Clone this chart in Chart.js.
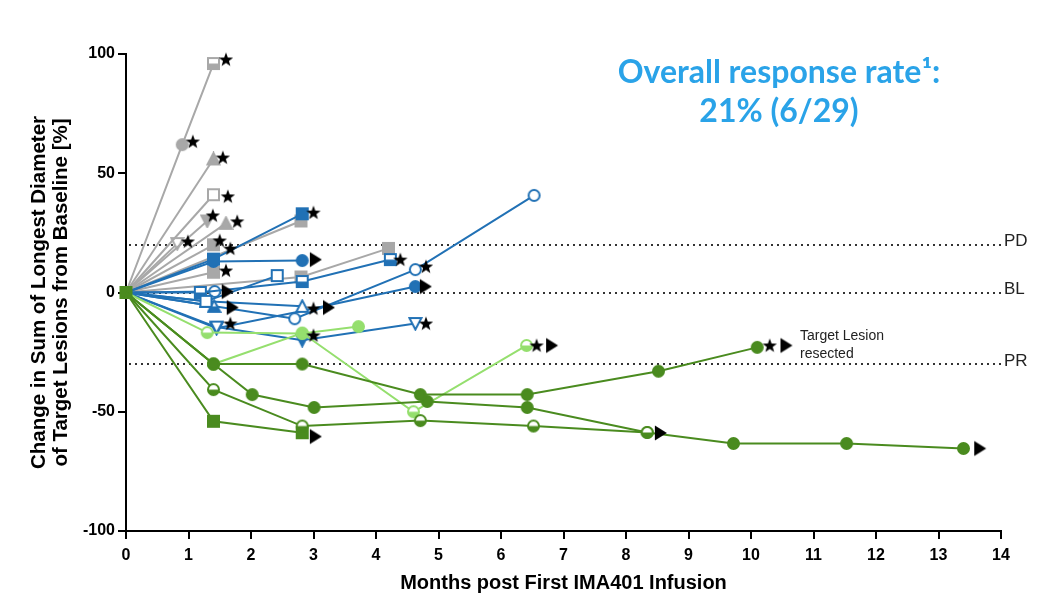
<!DOCTYPE html>
<html>
<head>
<meta charset="utf-8">
<script src="https://cdn.jsdelivr.net/npm/chart.js@4.4.1/dist/chart.umd.min.js"></script>
<style>
  body { margin: 0; background: #fff; }
</style>
</head>
<body>
<canvas id="chart" width="1045" height="610"></canvas>
<script>
// values: [months, % change from baseline]
const xTicks = [0, 14];
const yTicks = [-100, 100];
const refLevels = [20, 0, -30];
const refNames = ['PD', 'BL', 'PR'];

const graySeries = [
  [[0, 0], [0.9, 62], [1.4, 96]],
  [[0, 0], [1.4, 56]],
  [[0, 0], [1.4, 41]],
  [[0, 0], [1.3, 30]],
  [[0, 0], [1.6, 29]],
  [[0, 0], [0.82, 20.5]],
  [[0, 0], [1.4, 20]],
  [[0, 0], [1.4, 8.5]],
  [[0, 0], [2.8, 30]],
  [[0, 0], [2.8, 6.5], [4.2, 18.5]]
];
const grayMarks = [
  ['circle-f', 'square-h'], ['triUp-f'], ['square-o'], ['triDown-f'], ['triUp-f'],
  ['triDown-o'], ['square-f'], ['square-f'], ['square-f'], ['square-f', 'square-f']
];

const blueSeries = [
  [[0, 0], [1.4, 14], [2.82, 33]],
  [[0, 0], [1.4, 13], [2.82, 13.4]],
  [[0, 0], [1.28, -3.7], [2.42, 7.1]],
  [[0, 0], [1.19, 0], [2.82, 4.6], [4.23, 13.8]],
  [[0, 0], [1.42, 0.4]],
  [[0, 0], [1.41, -5.8]],
  [[0, 0], [1.28, -3.7], [2.82, -5.8]],
  [[0, 0], [2.7, -11], [4.63, 9.6], [6.53, 40.7]],
  [[0, 0], [1.45, -14.5], [2.82, -20], [4.63, -13]],
  [[0, 0], [1.45, -15], [2.7, -8.4], [4.63, 2.5]]
];
const blueMarks = [
  ['square-f', 'square-f'], ['circle-f', 'circle-f'], ['square-o', 'square-o'],
  ['square-h', 'square-h', 'square-h'], ['circle-o'], ['triUp-h'], ['triUp-o', 'triUp-o'],
  ['circle-o', 'circle-o', 'circle-o'], ['triDown-o', 'triDown-f', 'triDown-o'],
  ['triDown-f', 'none', 'circle-f']
];

const lightSeries = [
  [[0, 0], [1.3, -16.8], [2.82, -17.2], [3.72, -14.3]],
  [[0, 0], [1.4, -30], [2.82, -17], [4.6, -50], [6.41, -22.2]]
];
const lightMarks = [
  ['circle-h', 'circle-f', 'circle-f'],
  ['circle-f', 'circle-f', 'circle-h', 'circle-h']
];

const darkSeries = [
  [[0, 0], [1.4, -30], [2.82, -30], [4.71, -42.8], [6.42, -42.8], [8.52, -33], [10.1, -23]],
  [[0, 0], [1.4, -30], [2.02, -42.8], [3.01, -48.2], [4.82, -45.7], [6.42, -48.2], [8.34, -58.7]],
  [[0, 0], [1.4, -40.7], [2.82, -56], [4.71, -53.7], [6.52, -56], [8.34, -58.7], [9.72, -63.3], [11.53, -63.3], [13.4, -65.4]],
  [[0, 0], [1.4, -54], [2.82, -58.8]]
];
const darkMarks = [
  ['circle-f', 'circle-f', 'circle-f', 'circle-f', 'circle-f', 'circle-f'],
  ['circle-f', 'circle-f', 'circle-f', 'circle-f', 'circle-f', 'circle-h'],
  ['circle-h', 'circle-h', 'circle-h', 'circle-h', 'circle-h', 'circle-f', 'circle-f', 'circle-f'],
  ['square-f', 'square-f']
];

// star = discontinued, arrow = ongoing
const starPoints = [
  [1.6, 97.7], [1.07, 63.3], [1.55, 56.6], [1.63, 40.3], [1.39, 32.3], [1.78, 29.8],
  [0.99, 21.4], [1.5, 21.8], [1.67, 18.4], [1.6, 9.2], [3.0, 33.5], [4.39, 13.8],
  [4.8, 10.9], [3.0, -6.7], [1.67, -13], [3.0, -18], [4.8, -13], [6.57, -22.2], [10.3, -22.2]
];
const arrowPoints = [
  [3.03, 13.8], [1.62, 0.4], [1.7, -6.3], [3.24, -6.3], [4.79, 2.5], [3.03, -60.4],
  [6.81, -22.2], [10.56, -22.2], [8.55, -58.9], [13.66, -65.4]
];

const grayColor = '#a8a8a8';
const blueColor = '#2171b5';
const lightColor = '#95df6e';
const darkColor = '#4a8b1f';

function marker(code, color) {
  const parts = code.split('-');
  const shape = parts[0], fill = parts[1];
  const s = 11, c = document.createElement('canvas');
  c.width = c.height = s + 4;
  const ctx = c.getContext('2d');
  const m = c.width / 2, r = s / 2;
  function path() {
    ctx.beginPath();
    if (shape === 'circle') ctx.arc(m, m, r, 0, Math.PI * 2);
    else if (shape === 'square') ctx.rect(m - r, m - r, s, s);
    else if (shape === 'triUp') { ctx.moveTo(m, m - r - 0.5); ctx.lineTo(m + r + 0.5, m + r); ctx.lineTo(m - r - 0.5, m + r); ctx.closePath(); }
    else { ctx.moveTo(m - r - 0.5, m - r); ctx.lineTo(m + r + 0.5, m - r); ctx.lineTo(m, m + r + 0.5); ctx.closePath(); }
  }
  ctx.lineWidth = 2;
  ctx.strokeStyle = color;
  path();
  ctx.fillStyle = fill === 'f' ? color : '#fff';
  ctx.fill();
  if (fill === 'h') {
    ctx.save();
    path();
    ctx.clip();
    ctx.fillStyle = color;
    ctx.fillRect(0, m, c.width, c.height);
    ctx.restore();
  }
  path();
  ctx.stroke();
  return c;
}

function starMark() {
  const c = document.createElement('canvas');
  c.width = c.height = 16;
  const ctx = c.getContext('2d');
  ctx.beginPath();
  for (let i = 0; i < 10; i++) {
    const rr = i % 2 ? 3.1 : 7.5;
    const a = -Math.PI / 2 + i * Math.PI / 5;
    ctx.lineTo(8 + rr * Math.cos(a), 8.5 + rr * Math.sin(a));
  }
  ctx.closePath();
  ctx.fillStyle = '#000';
  ctx.fill();
  return c;
}

function arrowMark() {
  const c = document.createElement('canvas');
  c.width = 15; c.height = 18;
  const ctx = c.getContext('2d');
  ctx.beginPath();
  ctx.moveTo(2, 1.5);
  ctx.lineTo(14, 9);
  ctx.lineTo(2, 16.5);
  ctx.closePath();
  ctx.fillStyle = '#000';
  ctx.fill();
  return c;
}

function buildSets(seriesList, marksList, color, order, originIndex) {
  return seriesList.map(function (pts, i) {
    const codes = ['none'].concat(marksList[i]);
    if (i === originIndex) codes[0] = marksList[i][0];
    return {
      type: 'line',
      data: pts.map(p => ({ x: p[0], y: p[1] })),
      borderColor: color,
      backgroundColor: color,
      borderWidth: 2,
      tension: 0,
      clip: false,
      order: order,
      pointStyle: codes.map(c => c === 'none' ? 'circle' : marker(c, color)),
      pointRadius: codes.map(c => c === 'none' ? 0 : 5)
    };
  });
}

const starImg = starMark();
const arrowImg = arrowMark();

const datasets = []
  .concat(buildSets(graySeries, grayMarks, grayColor, 4, -1))
  .concat(buildSets(blueSeries, blueMarks, blueColor, 3, -1))
  .concat(buildSets(lightSeries, lightMarks, lightColor, 2, -1))
  .concat(buildSets(darkSeries, darkMarks, darkColor, 1, 3));

datasets.push({
  type: 'scatter',
  data: starPoints.map(p => ({ x: p[0], y: p[1] })),
  pointStyle: starImg, pointRadius: 5, showLine: false, clip: false, order: 0
});
datasets.push({
  type: 'scatter',
  data: arrowPoints.map(p => ({ x: p[0], y: p[1] })),
  pointStyle: arrowImg, pointRadius: 5, showLine: false, clip: false, order: 0
});

const tickFont = { family: "'Liberation Sans', Arial, sans-serif", size: 16, weight: 'bold' };
const xTitleFont = { family: "'Liberation Sans', Arial, sans-serif", size: 20, weight: 'bold' };
const yTitleFont = { family: "'Liberation Sans', Arial, sans-serif", size: 20.5, weight: 'bold', lineHeight: 1.05 };

const overlay = {
  id: 'overlay',
  beforeDatasetsDraw(chart) {
    const { ctx, chartArea } = chart;
    const x = chart.scales.x, y = chart.scales.y;
    ctx.save();
    ctx.fillStyle = '#333';
    refLevels.forEach(function (v) {
      const py = Math.round(y.getPixelForValue(v));
      for (let px = chartArea.left + 3; px < x.getPixelForValue(xTicks[1]); px += 6) {
        ctx.fillRect(px, py - 1, 2, 2);
      }
    });
    ctx.restore();
  },
  afterDraw(chart) {
    const { ctx, chartArea } = chart;
    const y = chart.scales.y;
    ctx.save();
    ctx.fillStyle = '#222';
    ctx.font = "17px 'Liberation Sans', Arial, sans-serif";
    ctx.textBaseline = 'middle';
    refLevels.forEach(function (v, i) {
      ctx.fillText(refNames[i], chartArea.right + 3, y.getPixelForValue(v) - 3);
    });

    ctx.font = "14px 'Liberation Sans', Arial, sans-serif";
    ctx.fillText('Target Lesion', 800, 336);
    ctx.fillText('resected', 800, 354);

    ctx.fillStyle = '#2aa3e8';
    ctx.font = "bold 32px Lato, 'Open Sans', sans-serif";
    ctx.textAlign = 'center';
    ctx.fillText('Overall response rate\u00b9:', 779, 73);
    ctx.fillText('21% (6/29)', 779, 112);
    ctx.restore();
  }
};

new Chart(document.getElementById('chart'), {
  type: 'line',
  data: { datasets: datasets },
  plugins: [overlay],
  options: {
    responsive: false,
    animation: false,
    events: [],
    layout: { padding: { left: 0, top: 54, right: 44, bottom: 0 }, autoPadding: false },
    plugins: { legend: { display: false }, tooltip: { enabled: false } },
    scales: {
      x: {
        type: 'linear',
        min: xTicks[0], max: xTicks[1],
        ticks: { stepSize: 1, autoSkip: false, maxRotation: 0, color: '#000', font: tickFont, padding: 7 },
        grid: { drawOnChartArea: false, drawTicks: true, tickLength: 8, color: '#000', lineWidth: 2 },
        border: { display: true, color: '#000', width: 2 },
        title: { display: true, text: 'Months post First IMA401 Infusion', color: '#000', font: xTitleFont, padding: { top: 4, bottom: 15 } },
        afterFit(scale) { scale.height = 79; }
      },
      y: {
        min: yTicks[0], max: yTicks[1],
        ticks: { stepSize: 50, color: '#000', font: tickFont, padding: 3 },
        grid: { drawOnChartArea: false, drawTicks: true, tickLength: 8, color: '#000', lineWidth: 2 },
        border: { display: true, color: '#000', width: 2 },
        title: {
          display: true,
          text: ['Change in Sum of Longest Diameter', 'of Target Lesions from Baseline [%]'],
          color: '#000', font: yTitleFont, padding: { top: 29, bottom: 0 }
        },
        afterFit(scale) { scale.width = 126; }
      }
    }
  }
});
</script>
</body>
</html>
